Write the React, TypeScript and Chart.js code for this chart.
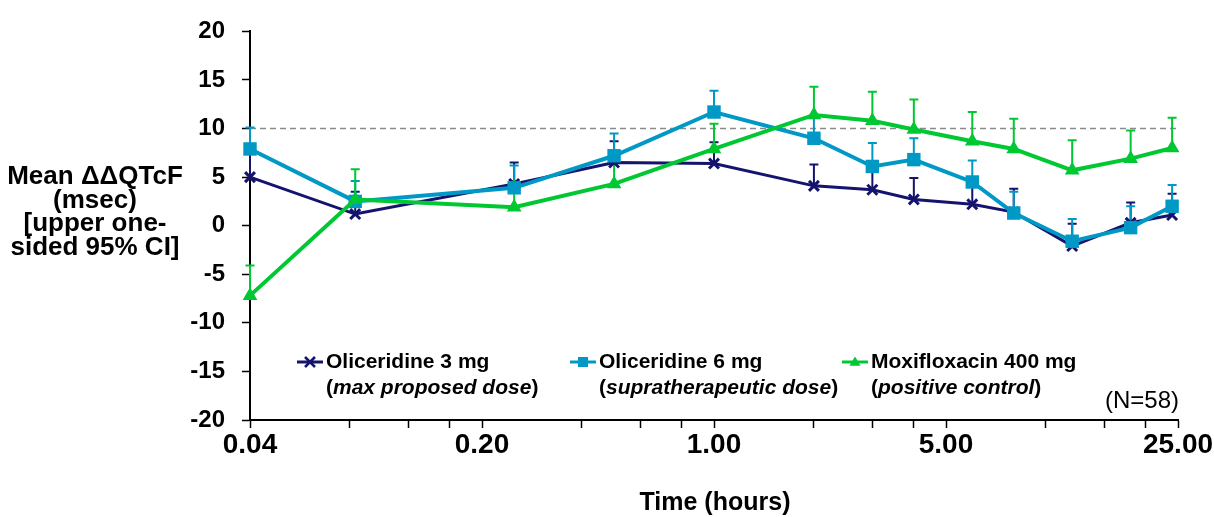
import React, { useEffect, useRef } from "react";
import { Chart, registerables } from "chart.js";

Chart.register(...registerables);

// ---- data ----
const timeHours = [0.04, 0.083, 0.25, 0.5, 1, 2, 3, 4, 6, 8, 12, 18, 24];
const oli3Mean = [5.0, 1.2, 4.3, 6.5, 6.4, 4.1, 3.7, 2.7, 2.2, 1.4, -2.1, 0.3, 1.1];
const oli3Upper = [7.6, 3.5, 6.5, 8.7, 8.6, 6.3, 5.9, 4.9, 4.5, 3.8, 0.2, 2.4, 3.3];
const oli6Mean = [7.9, 2.5, 3.9, 7.2, 11.7, 9.0, 6.1, 6.8, 4.5, 1.3, -1.6, -0.2, 2.0];
const oli6Upper = [10.1, 4.6, 6.2, 9.5, 13.9, 11.2, 8.5, 9.0, 6.7, 3.5, 0.7, 2.0, 4.2];
const moxMean = [-7.2, 2.7, 1.9, 4.3, 7.9, 11.4, 10.8, 9.9, 8.7, 7.9, 5.7, 6.9, 8.0];
const moxUpper = [-4.1, 5.8, 4.6, 7.0, 10.5, 14.3, 13.8, 13.0, 11.7, 11.0, 8.8, 9.8, 11.1];

const seriesNames = ["Oliceridine 3 mg", "Oliceridine 6 mg", "Moxifloxacin 400 mg"];
const seriesNotes = ["max proposed dose", "supratherapeutic dose", "positive control"];
const xMajorTicks = [0.04, 0.2, 1, 5, 25];
const xMinorTicks = [0.08, 0.12, 0.16, 0.4, 0.6, 0.8, 2, 3, 4, 10, 15, 20];
const yMin = -20;
const yMax = 20;
const yStep = 5;
const referenceLine = 10;
const yTitleLines = ["Mean \u0394\u0394QTcF", "(msec)", "[upper one-", "sided 95% CI]"];
const xTitle = "Time (hours)";
const sampleNote = "(N=58)";

const NAVY = "#14146e";
const CYAN = "#0099c6";
const GREEN = "#00c832";
const FONT = '"Liberation Sans", Arial, sans-serif';

const upperSets = [oli3Upper, oli6Upper, moxUpper];
const colors = [NAVY, CYAN, GREEN];

function drawMarker(ctx: CanvasRenderingContext2D, kind: number, x: number, y: number, r: number, color: string) {
  ctx.save();
  ctx.fillStyle = color;
  ctx.strokeStyle = color;
  if (kind === 0) {
    ctx.lineWidth = 2.5;
    ctx.beginPath();
    ctx.moveTo(x - r, y - r);
    ctx.lineTo(x + r, y + r);
    ctx.moveTo(x - r, y + r);
    ctx.lineTo(x + r, y - r);
    ctx.stroke();
  } else if (kind === 1) {
    ctx.fillRect(x - r, y - r, 2 * r, 2 * r);
  } else {
    ctx.beginPath();
    ctx.moveTo(x, y - r * 1.1);
    ctx.lineTo(x + r * 1.1, y + r * 0.75);
    ctx.lineTo(x - r * 1.1, y + r * 0.75);
    ctx.closePath();
    ctx.fill();
  }
  ctx.restore();
}

const overlayPlugin = {
  id: "overlay",
  beforeDatasetsDraw(chart: any) {
    const { ctx, chartArea, scales } = chart;
    const x = scales.x;
    const y = scales.y;
    ctx.save();
    // reference dashed line
    const ry = y.getPixelForValue(referenceLine);
    ctx.strokeStyle = "#8a8a8a";
    ctx.lineWidth = 1.5;
    ctx.setLineDash([6, 4]);
    ctx.beginPath();
    ctx.moveTo(chartArea.left, ry);
    ctx.lineTo(chartArea.right, ry);
    ctx.stroke();
    ctx.setLineDash([]);
    // upper one-sided CI bars
    const means = [oli3Mean, oli6Mean, moxMean];
    upperSets.forEach((ups, si) => {
      ctx.strokeStyle = colors[si];
      ctx.lineWidth = 2;
      ups.forEach((u, i) => {
        const px = x.getPixelForValue(timeHours[i]);
        const py0 = y.getPixelForValue(means[si][i]);
        const py1 = y.getPixelForValue(u);
        ctx.beginPath();
        ctx.moveTo(px, py0);
        ctx.lineTo(px, py1);
        ctx.moveTo(px - 4.5, py1);
        ctx.lineTo(px + 4.5, py1);
        ctx.stroke();
      });
    });
    ctx.restore();
  },
  afterDraw(chart: any) {
    const { ctx } = chart;
    ctx.save();
    ctx.fillStyle = "#000";
    ctx.textBaseline = "middle";
    // y title
    ctx.font = `bold 26px ${FONT}`;
    ctx.textAlign = "center";
    yTitleLines.forEach((t, i) => ctx.fillText(t, 95, 177 + i * 23.5));
    // x title
    ctx.font = `bold 25px ${FONT}`;
    ctx.fillText(xTitle, 715, 503);
    // legend
    const entryX = [297, 570, 842];
    ctx.textAlign = "left";
    entryX.forEach((ex, i) => {
      const ly = 362;
      ctx.strokeStyle = colors[i];
      ctx.lineWidth = 3;
      ctx.beginPath();
      ctx.moveTo(ex, ly);
      ctx.lineTo(ex + 26, ly);
      ctx.stroke();
      drawMarker(ctx, i, ex + 13, ly, 5, colors[i]);
      const tx = ex + 29;
      ctx.fillStyle = "#000";
      ctx.font = `bold 21px ${FONT}`;
      ctx.fillText(seriesNames[i], tx, ly);
      const l2 = ly + 26;
      let cx = tx;
      ctx.fillText("(", cx, l2);
      cx += ctx.measureText("(").width;
      ctx.font = `italic bold 21px ${FONT}`;
      ctx.fillText(seriesNotes[i], cx, l2);
      cx += ctx.measureText(seriesNotes[i]).width;
      ctx.font = `bold 21px ${FONT}`;
      ctx.fillText(")", cx, l2);
    });
    // sample size
    ctx.font = `24px ${FONT}`;
    ctx.textAlign = "right";
    ctx.fillText(sampleNote, 1179, 401);
    ctx.restore();
  },
};

export default function App() {
  const canvasRef = useRef<HTMLCanvasElement | null>(null);

  useEffect(() => {
    const canvas = canvasRef.current;
    if (!canvas) return;
    const mk = (data: number[]) => data.map((v, i) => ({ x: timeHours[i], y: v }));
    const chart = new Chart(canvas, {
      type: "line",
      data: {
        datasets: [
          {
            label: seriesNames[0],
            data: mk(oli3Mean),
            borderColor: NAVY,
            backgroundColor: NAVY,
            borderWidth: 3,
            pointStyle: "crossRot",
            pointRadius: 7,
            pointBorderWidth: 3,
            pointBorderColor: NAVY,
            order: 3,
            clip: false,
          },
          {
            label: seriesNames[1],
            data: mk(oli6Mean),
            borderColor: CYAN,
            backgroundColor: CYAN,
            borderWidth: 4,
            pointStyle: "rect",
            pointRadius: 9.5,
            pointBorderWidth: 0,
            order: 2,
            clip: false,
          },
          {
            label: seriesNames[2],
            data: mk(moxMean),
            borderColor: GREEN,
            backgroundColor: GREEN,
            borderWidth: 4,
            pointStyle: "triangle",
            pointRadius: 8.5,
            pointBorderWidth: 0,
            order: 1,
            clip: false,
          },
        ] as any,
      },
      options: {
        animation: false,
        responsive: false,
        devicePixelRatio: 1,
        layout: { padding: { left: 0, right: 36, top: 27, bottom: 0 } },
        plugins: { legend: { display: false }, tooltip: { enabled: false } },
        scales: {
          x: {
            type: "logarithmic",
            min: 0.04,
            max: 25,
            afterBuildTicks: (scale: any) => {
              const all = [...xMajorTicks, ...xMinorTicks].sort((a, b) => a - b);
              scale.ticks = all.map((v) => ({ value: v, major: xMajorTicks.includes(v) }));
            },
            afterFit: (scale: any) => {
              scale.height = 97;
            },
            ticks: {
              autoSkip: false,
              maxRotation: 0,
              minRotation: 0,
              padding: 0,
              color: "#000",
              font: { family: FONT, size: 28, weight: "bold" },
              callback: (v: any) => {
                const n = Number(v);
                return xMajorTicks.some((m) => Math.abs(m - n) < 1e-9) ? n.toFixed(2) : "";
              },
            },
            grid: {
              drawOnChartArea: false,
              drawTicks: true,
              tickLength: 8,
              tickColor: "#000",
              tickWidth: 1.5,
            },
            border: { display: true, color: "#000", width: 2 },
          },
          y: {
            type: "linear",
            min: yMin,
            max: yMax,
            afterFit: (scale: any) => {
              scale.width = 250;
            },
            ticks: {
              stepSize: yStep,
              padding: 17,
              color: "#000",
              font: { family: FONT, size: 24, weight: "bold" },
            },
            grid: {
              drawOnChartArea: false,
              drawTicks: true,
              tickLength: 8,
              tickColor: "#000",
              tickWidth: 1.5,
            },
            border: { display: true, color: "#000", width: 2 },
          },
        },
      } as any,
      plugins: [overlayPlugin],
    });
    return () => chart.destroy();
  }, []);

  return (
    <div style={{ position: "fixed", left: 0, top: 0, width: 1214, height: 517, background: "#fff" }}>
      <canvas ref={canvasRef} width={1214} height={517} style={{ display: "block" }} />
    </div>
  );
}
